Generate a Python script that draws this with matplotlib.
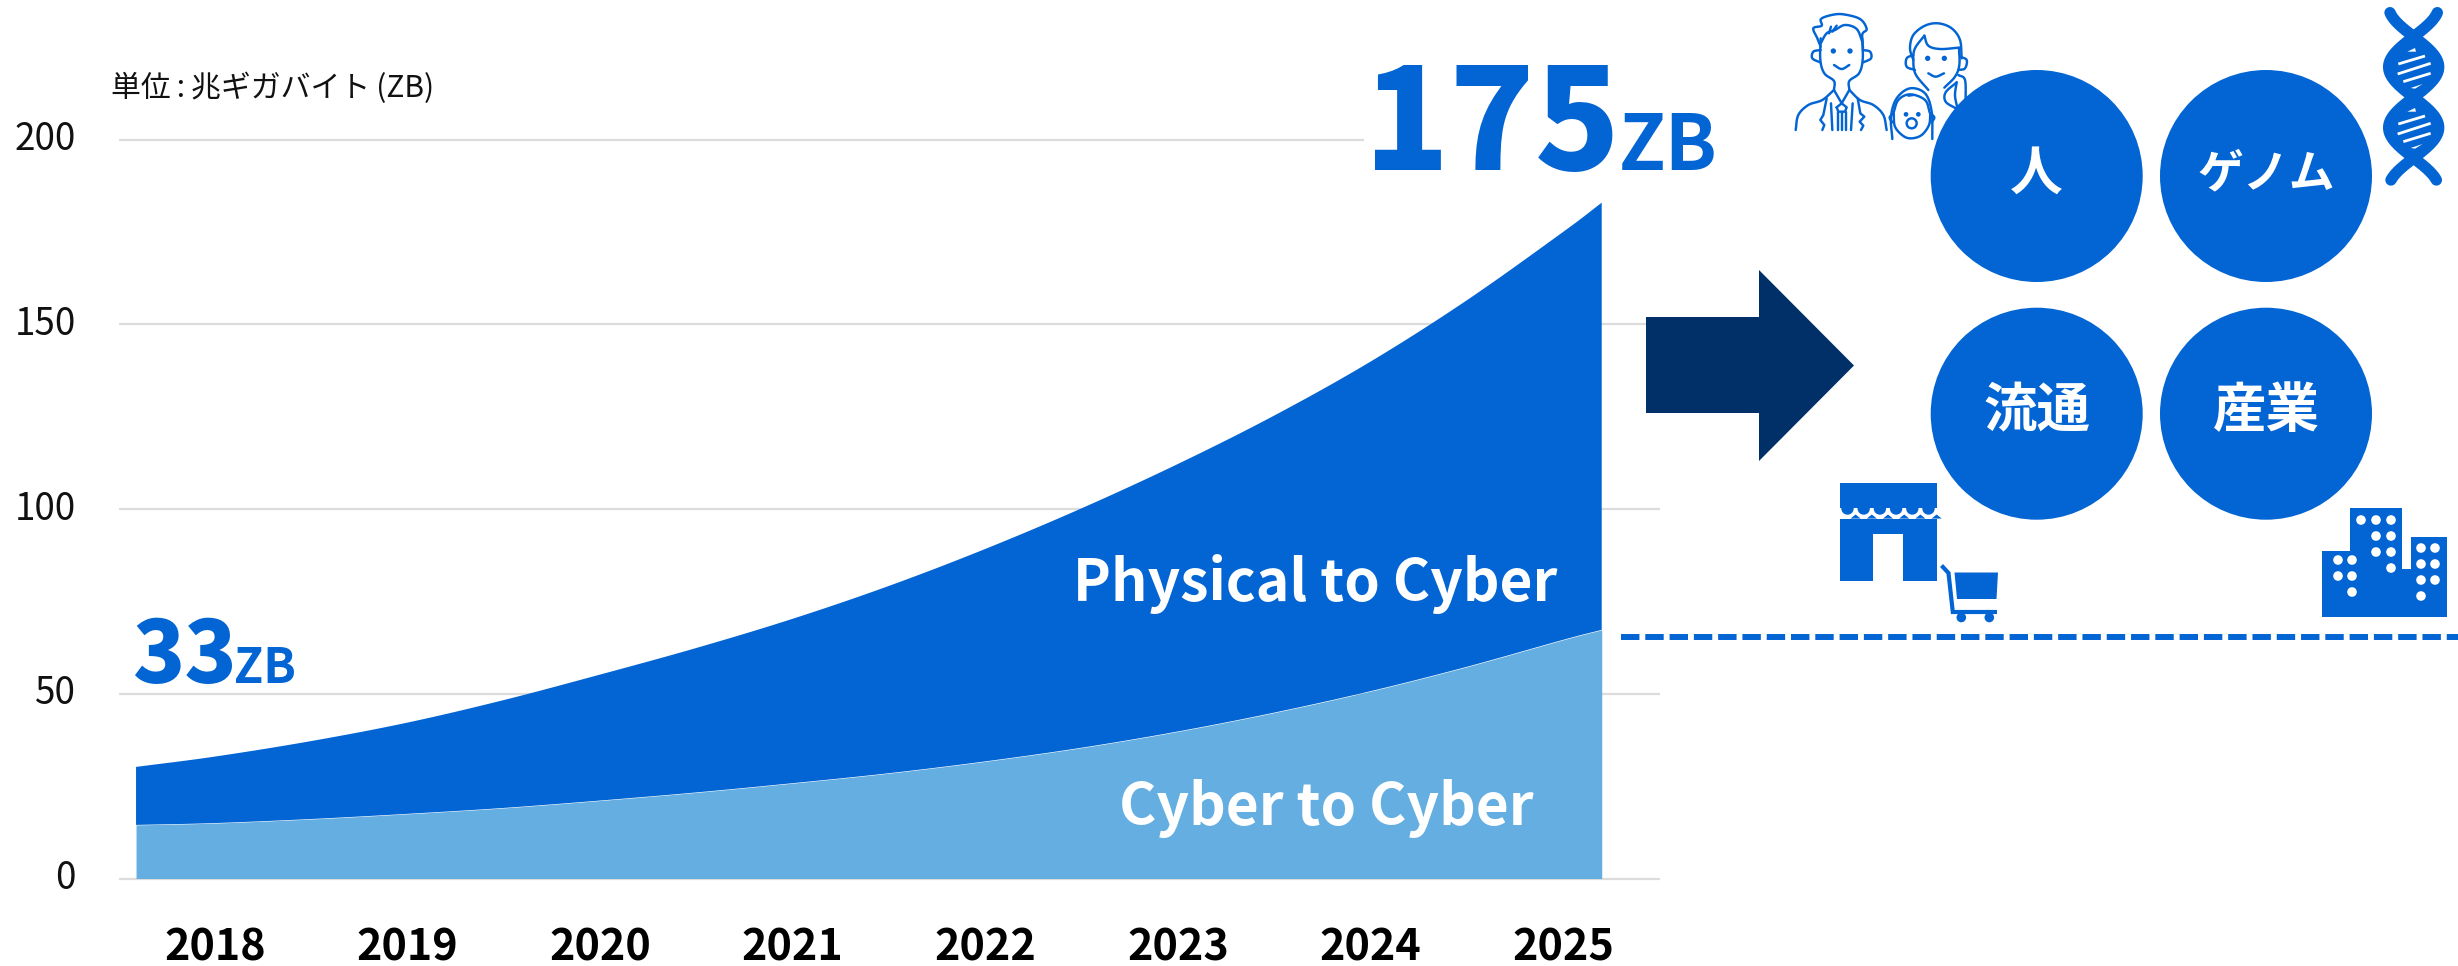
import numpy as np
import matplotlib
matplotlib.use('Agg')
import matplotlib.pyplot as plt
from matplotlib.patches import Circle, Polygon, Rectangle

plt.rcParams['font.family'] = ['Noto Sans CJK JP', 'DejaVu Sans']

BLUE = '#0365d4'
LIGHT = '#64aee1'
NAVY = '#003067'
GRID = '#dcdcdc'

years = [2018, 2019, 2020, 2021, 2022, 2023, 2024, 2025]
y_ticks = [0, 50, 100, 150, 200]

# half-year samples of the two stacked areas, the ends run past the first and last year
area_x = [2017.59, 2018, 2018.5, 2019, 2019.5, 2020, 2020.5, 2021, 2021.5,
          2022, 2022.5, 2023, 2023.5, 2024, 2024.5, 2025, 2025.2]
total_zb = [30.2, 33, 37.2, 42.2, 48.3, 55.2, 62.4, 70.3, 79.2,
            89.2, 100.2, 112.2, 125.3, 139.9, 156.5, 175, 182.9]
cyber_zb = [14.5, 15.0, 16.1, 17.5, 19.1, 21.1, 23.3, 25.8, 28.5,
            31.7, 35.4, 39.8, 44.9, 50.7, 57.3, 64.6, 67.3]

circle_labels = ['人', 'ゲノム', '流通', '産業']
circle_sizes = [38, 33, 38.5, 38.5]
circle_x = [2036.7, 2266, 2036.7, 2266]
circle_y = [176, 176, 413.7, 413.7]

# plot frame in pixels
W, H = 2458, 966
LEFT, RIGHT, TOP, BOTTOM = 119, 1660, 139.5, 878.5
X2018, YEAR_W = 215, 192.6


def smooth(pts, n=12):
    # Catmull-Rom through the given points
    p = np.array(pts, dtype=float)
    p = np.vstack([2 * p[0] - p[1], p, 2 * p[-1] - p[-2]])
    out = []
    t = np.linspace(0, 1, n, endpoint=False)[:, None]
    for i in range(1, len(p) - 2):
        p0, p1, p2, p3 = p[i - 1], p[i], p[i + 1], p[i + 2]
        out.append(0.5 * (2 * p1 + (p2 - p0) * t + (2 * p0 - 5 * p1 + 4 * p2 - p3) * t ** 2
                          + (3 * p1 - p0 - 3 * p2 + p3) * t ** 3))
    out.append(p[-2:-1])
    return np.vstack(out)


fig = plt.figure(figsize=(W / 100, H / 100), dpi=100, facecolor='white')
ax = fig.add_axes([LEFT / W, 1 - BOTTOM / H, (RIGHT - LEFT) / W, (BOTTOM - TOP) / H])
ax.set_xlim(2018 + (LEFT - X2018) / YEAR_W, 2018 + (RIGHT - X2018) / YEAR_W)
ax.set_ylim(0, 200)
for s in ax.spines.values():
    s.set_visible(False)

# the top gridline stops short of the 175 callout
grid_end = [RIGHT, RIGHT, RIGHT, RIGHT, 1364]
for v, end in zip(y_ticks, grid_end):
    ax.hlines(v, ax.get_xlim()[0], 2018 + (end - X2018) / YEAR_W, color=GRID, lw=1.6, zorder=1, clip_on=False)

# curved edges for both areas
top_edge = smooth(list(zip(area_x, total_zb)))
mid_edge = smooth(list(zip(area_x, cyber_zb)))
ax.fill(np.r_[top_edge[:, 0], mid_edge[::-1, 0]], np.r_[top_edge[:, 1], mid_edge[::-1, 1]], color=BLUE, lw=0, zorder=2)
ax.fill_between(mid_edge[:, 0], 0, mid_edge[:, 1], color=LIGHT, lw=0, zorder=2)

ax.set_xticks(years)
ax.set_xticklabels([str(y) for y in years], fontsize=31, fontweight='bold', color='black')
ax.set_yticks(y_ticks)
ax.set_yticklabels([str(v) for v in y_ticks], fontsize=26.5, color='#111111', va='center')
ax.tick_params(axis='x', length=0, pad=34)
ax.tick_params(axis='y', length=0, pad=31)

# overlay in pixel coordinates for callouts and icons
ov = fig.add_axes([0, 0, 1, 1], facecolor='none')
ov.set_xlim(0, W)
ov.set_ylim(H, 0)
ov.axis('off')

ov.text(111, 88, '単位\u2009:\u2009兆ギガバイト\u2009(ZB)', fontsize=21.5, color='#111111', va='center', ha='left')
ov.text(133, 683, '33', fontsize=62, fontweight='black', color=BLUE, va='baseline', ha='left')
ov.text(234, 683, 'ZB', fontsize=34.5, fontweight='bold', color=BLUE, va='baseline', ha='left')
ov.text(1364, 170, '175', fontsize=101, fontweight='black', color=BLUE, va='baseline', ha='left')
ov.text(1619, 170, 'ZB', fontsize=55, fontweight='bold', color=BLUE, va='baseline', ha='left')
ov.text(1557, 601, 'Physical to Cyber', fontsize=41, fontweight='bold', color='white', va='baseline', ha='right')
ov.text(1534, 825, 'Cyber to Cyber', fontsize=41, fontweight='bold', color='white', va='baseline', ha='right')

# arrow
ov.add_patch(Polygon([(1646, 317), (1759, 317), (1759, 270), (1854, 365.5), (1759, 461),
                      (1759, 413), (1646, 413)], color=NAVY, lw=0, zorder=5))

# dashed ground line
ov.plot([1621, W], [636.7, 636.7], color=BLUE, lw=4.3, dashes=(18.5 / 6, 5.9 / 6), dash_capstyle='butt', zorder=3)


def person_line(pts, curved=True):
    # points are given on a 3x grid anchored at the top left of the people icon
    c = smooth(pts) if curved else np.array(pts, dtype=float)
    ov.plot(1785 + c[:, 0] / 3, 5 + c[:, 1] / 3, color=BLUE, lw=1.75, solid_capstyle='round', zorder=3)


def person_dot(x, y, r):
    ov.add_patch(Circle((1785 + x / 3, 5 + y / 3), r / 3, color=BLUE, lw=0, zorder=3))


# father
person_line([(107, 100), (106, 165), (118, 205), (147, 228), (147, 255)])
person_line([(232, 100), (233, 165), (222, 205), (193, 228), (193, 255)])
person_line([(107, 125), (97, 100), (85, 70), (110, 62), (108, 42), (140, 30), (175, 28), (225, 42),
             (245, 72), (232, 88), (234, 130)])
person_line([(107, 115), (125, 85), (150, 75), (180, 60), (215, 72), (232, 110)])
person_line([(132, 85), (138, 65)], False)
person_line([(142, 80), (155, 62)], False)
person_line([(107, 135), (85, 140), (82, 160), (105, 172)])
person_line([(233, 135), (255, 140), (258, 160), (235, 172)])
person_dot(145, 138, 8)
person_dot(195, 138, 8)
person_line([(147, 180), (170, 192), (193, 180)])
person_line([(32, 375), (40, 330), (70, 300), (112, 285), (147, 255)])
person_line([(305, 375), (295, 330), (265, 300), (225, 285), (193, 255)])
person_line([(125, 280), (115, 330), (106, 345), (118, 360), (112, 375)], False)
person_line([(218, 280), (226, 325), (238, 335), (224, 350), (235, 362), (228, 375)], False)
person_line([(147, 255), (170, 295), (193, 255)], False)
person_line([(155, 307), (170, 295), (185, 307), (180, 320), (160, 320), (155, 307)], False)
for bx0, bx1 in [(138, 142), (158, 158), (170, 170), (182, 182), (203, 198)]:
    person_line([(bx0, 295 if bx0 in (138, 203) else 322), (bx1, 375)], False)

# mother
person_line([(385, 165), (375, 130), (385, 90), (420, 62), (460, 55), (500, 70), (525, 105), (530, 160)])
person_line([(418, 92), (390, 130), (385, 165), (392, 208), (430, 255)])
person_line([(418, 92), (430, 122), (465, 132), (522, 128)])
person_line([(522, 128), (523, 180), (510, 215), (478, 248)])
person_line([(385, 150), (365, 160), (365, 185), (390, 195)])
person_line([(525, 155), (545, 165), (540, 190), (520, 195)])
person_dot(428, 160, 8)
person_dot(478, 160, 8)
person_line([(430, 205), (452, 215), (477, 205)])
person_line([(520, 210), (540, 225), (542, 290)])
person_line([(515, 232), (482, 262), (482, 290), (512, 310)])
person_line([(515, 232), (510, 270), (516, 305)])

# baby
person_line([(322, 402), (318, 335), (335, 280), (375, 250), (420, 265), (440, 320), (442, 402)])
person_line([(325, 325), (340, 285), (375, 268), (420, 285), (435, 325)])
person_line([(326, 325), (330, 365), (355, 393), (380, 400), (410, 390), (432, 360), (436, 325)])
person_line([(370, 272), (385, 270)], False)
person_line([(322, 328), (314, 338), (322, 352)])
person_line([(440, 328), (448, 338), (440, 352)])
person_dot(363, 328, 7)
person_dot(400, 328, 7)
ov.add_patch(Circle((1785 + 380 / 3, 5 + 355 / 3), 5, fc='none', ec=BLUE, lw=1.75, zorder=3))

# shop: awning over a white band with hanging scallops, then the wall with its door
ov.add_patch(Rectangle((1839.5, 482.5), 97, 98.5, color=BLUE, lw=0, zorder=3))
ov.add_patch(Rectangle((1873, 533.5), 30, 48, color='white', lw=0, zorder=3))
ov.add_patch(Rectangle((1836, 508), 104, 10.5, color='white', lw=0, zorder=3))
lobes = 1847.5 + np.arange(6) * 16.2
for lx in lobes:
    ov.add_patch(Circle((lx, 508.5), 6.2, color=BLUE, lw=0, zorder=4))
    ov.add_patch(Polygon([(lx + 3, 518.6), (lx + 8.1, 514.5), (lx + 13.2, 518.6)], color=BLUE, lw=0, zorder=4))

# cart
ov.add_patch(Polygon([(1954.5, 572.5), (1998, 572.5), (1996.5, 599), (1957, 599)], color=BLUE, lw=0, zorder=3))
ov.plot([1941.5, 1948.5, 1952.8, 1997], [565.5, 573, 612, 612], color=BLUE, lw=3, solid_joinstyle='miter',
        solid_capstyle='butt', zorder=3)
ov.add_patch(Circle((1961.3, 617.5), 4.8, color=BLUE, lw=0, zorder=3))
ov.add_patch(Circle((1989.3, 617.5), 4.8, color=BLUE, lw=0, zorder=3))

# office buildings
ov.add_patch(Polygon([(2321.5, 617), (2321.5, 550.5), (2350, 550.5), (2350, 507.5), (2402, 507.5), (2402, 569),
                      (2411, 569), (2411, 536.5), (2447, 536.5), (2447, 617)], color=BLUE, lw=0, zorder=3))
windows = [(2361, 520), (2376, 520), (2391, 520), (2376, 536), (2391, 536), (2376, 552), (2391, 552), (2391, 568),
           (2338, 560), (2352, 560), (2338, 576), (2352, 576), (2352, 592),
           (2421, 548), (2435, 548), (2421, 564), (2435, 564), (2421, 580), (2435, 580), (2421, 596)]
for wx, wy in windows:
    ov.add_patch(Circle((wx, wy), 4.8, color='white', lw=0, zorder=4))

# double helix, stripes sit inside the filled lobes
hy = np.linspace(38, 540, 300)
hx = 75 * np.sin(np.pi * (hy - 110) / 182)
ov.plot(2370 + (131 + hx) / 3, hy / 3, color=BLUE, lw=8.2, solid_capstyle='round', zorder=3)
ov.plot(2370 + (131 - hx) / 3, hy / 3, color=BLUE, lw=8.2, solid_capstyle='round', zorder=3)
inside = (hy > 110) & (hy < 470)
ov.fill_betweenx(hy[inside] / 3, 2370 + (131 - hx[inside]) / 3, 2370 + (131 + hx[inside]) / 3, color=BLUE, lw=0, zorder=3)
for dy in (0, 180):
    for (x0, y0, x1, y1) in [(85, 192, 165, 168), (83, 222, 182, 190), (100, 245, 182, 220)]:
        ov.plot([2370 + x0 / 3, 2370 + x1 / 3], [(y0 + dy) / 3, (y1 + dy) / 3], color='white', lw=2, zorder=4,
                solid_capstyle='butt')
    ov.add_patch(Polygon([(2370 + 112 / 3, (155 + dy) / 3), (2370 + 135 / 3, (144 + dy) / 3),
                          (2370 + 138 / 3, (155 + dy) / 3)], color='white', lw=0, zorder=4))
    ov.add_patch(Polygon([(2370 + 122 / 3, (264 + dy) / 3), (2370 + 158 / 3, (252 + dy) / 3),
                          (2370 + 135 / 3, (266 + dy) / 3)], color='white', lw=0, zorder=4))

# category circles
for label, size, cx, cy in zip(circle_labels, circle_sizes, circle_x, circle_y):
    ov.add_patch(Circle((cx, cy), 106, color=BLUE, lw=0, zorder=6))
    ov.text(cx, cy - 2, label, fontsize=size, fontweight='bold', color='white', ha='center', va='center', zorder=7)

fig.savefig('out.png', dpi=100)
